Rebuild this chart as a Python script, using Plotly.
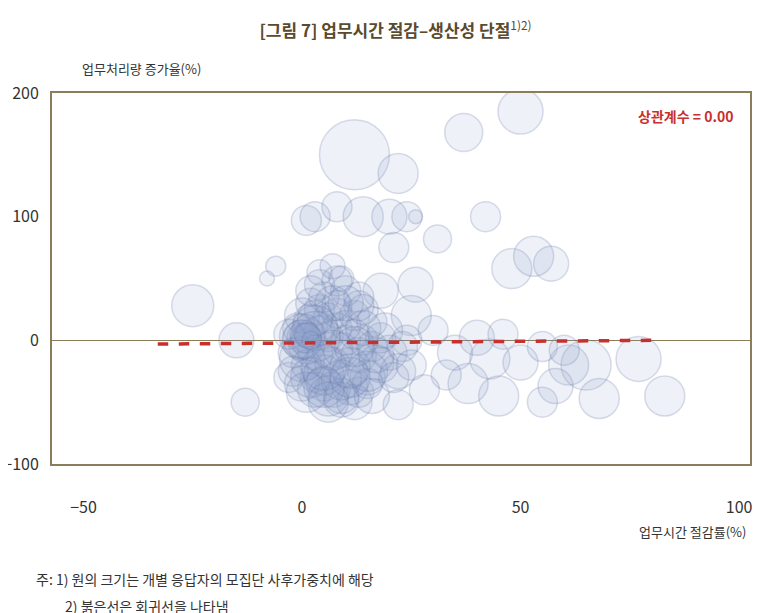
"""Bubble chart: work-time savings vs productivity (figure 7)."""

import plotly.graph_objects as go

# outlying respondents: time saving (%), output change (%), weight (marker diameter)
outer_x = [-25, -15, -8, -6, -13, -3, 12, 22, 37, 50, 1, 3, 8, 14, 20, 24, 26, 42, 31, 21,
           48, 53, 57, 26, 65, 61, 77, 83, 68, 55, 58, 45, 38, 33, 43, 35, 40, 46, 30, 50,
           55, 25, 28, 18, 60, 22]
outer_y = [28, 0, 50, 60, -50, -30, 150, 135, 168, 185, 97, 100, 108, 100, 100, 100, 100, 100, 82, 75,
           58, 68, 62, 45, -20, -20, -15, -45, -47, -50, -37, -45, -35, -28, -15, -10, 2, 5, 8, -18,
           -5, 20, -40, 40, -8, -52]
outer_w = [42, 35, 15, 20, 28, 30, 70, 40, 38, 45, 30, 30, 30, 40, 35, 30, 14, 30, 28, 30,
           40, 40, 35, 35, 50, 40, 45, 40, 40, 30, 35, 40, 40, 30, 40, 35, 35, 30, 30, 35,
           30, 40, 30, 35, 30, 30]

# dense core of respondents around zero
core_x = [0, 0, 1, 2, 3, 4, 5, 6, 7, 8, 9, 10, 11, 12, 13, 14, 15, 16, 17, 18,
          -2, -1, 0, 1, 2, 3, 4, 5, 6, 7, 8, 9, 10, 11, 12, 13, 14, 15, 16, 18,
          -3, -2, 0, 2, 3, 5, 6, 8, 9, 10, 12, 14, 16, 20, 22, 24,
          0, 2, 4, 5, 7, 9, 11, 13, 15, 17, 19, 21, 23, 25,
          1, 3, 5, 7, 9, 11, 13, 4, 6, 8, 3, 5, 7, 2, 10, 12,
          0, 0, 1, 1, 2, 3]
core_y = [0, 2, -5, 5, -10, 8, -15, 3, -20, 10, -8, 0, -25, 5, -12, 0, -30, -5, -18, 2,
          -10, 10, 20, -20, 15, -30, 25, -35, 18, -40, 22, -45, 12, -38, 20, -42, 10, -35, 15, -20,
          5, -25, -35, 30, -40, 35, -45, 28, -48, 40, -50, 25, -45, -10, -25, 0,
          -15, -30, 45, -28, 30, -32, -22, 28, -25, -12, 8, -30, -5, -20,
          -42, 10, -38, -8, 50, -30, 35, 55, -50, 48, 18, -22, 60, 40, 30, -5,
          3, 1, 2, 4, 0, 3]
core_w = [40, 30, 35, 30, 35, 30, 35, 30, 35, 30, 35, 30, 35, 30, 35, 30, 35, 30, 35, 30,
          30, 30, 35, 30, 35, 30, 30, 35, 30, 35, 30, 35, 30, 35, 30, 30, 35, 30, 30, 35,
          30, 30, 35, 30, 35, 30, 40, 30, 35, 30, 35, 30, 35, 35, 35, 30,
          45, 40, 30, 40, 35, 40, 40, 30, 40, 35, 35, 30, 30, 30,
          40, 45, 40, 40, 25, 40, 30, 25, 40, 30, 35, 45, 25, 30, 35, 40,
          45, 38, 30, 24, 18, 50]

# regression line end points
reg_x = [-33, 80]
reg_y = [-3, 0]

bubble_x = outer_x + core_x
bubble_y = outer_y + core_y
bubble_w = outer_w + core_w

FRAME = "#8b7d5a"
KFONT = "Noto Sans CJK KR"
L, R, T, B = 44, 33, 85, 157

fig = go.Figure()
fig.add_trace(
    go.Scatter(
        x=bubble_x,
        y=bubble_y,
        mode="markers",
        marker=dict(
            size=bubble_w,
            sizemode="diameter",
            color="rgba(140,158,205,0.2)",
            line=dict(color="rgba(100,118,165,0.35)", width=1.5),
        ),
        hoverinfo="x+y",
    )
)
fig.add_trace(
    go.Scatter(
        x=reg_x,
        y=reg_y,
        mode="lines",
        line=dict(color="#c8302e", width=3.5, dash="dash"),
    )
)

fig.update_layout(
    width=775,
    height=613,
    margin=dict(l=L, r=R, t=T, b=B, autoexpand=False),
    plot_bgcolor="white",
    paper_bgcolor="white",
    showlegend=False,
    font=dict(family=KFONT, color="#333333"),
    title=dict(
        text="<b>[그림 7] 업무시간 절감–생산성 단절</b><sup>1)2)</sup>",
        x=0.5,
        xanchor="center",
        y=0.972,
        font=dict(size=17, color="#5a4a2e", family=KFONT),
    ),
)
fig.update_xaxes(
    range=[-57.2, 102.5],
    tickvals=[-50, 0, 50, 100],
    ticktext=["−50", "0", "50", "100"],
    tickfont=dict(size=16, color="#333333"),
    showgrid=False,
    zeroline=False,
    showline=True,
    mirror=True,
    linecolor=FRAME,
    linewidth=2,
    ticks="",
    ticklabelstandoff=28,
    automargin=False,
)
fig.update_yaxes(
    range=[-100, 200],
    tickvals=[-100, 0, 100, 200],
    ticktext=["−100", "0", "100", "200"],
    tickfont=dict(size=16, color="#333333"),
    showgrid=False,
    zeroline=True,
    zerolinecolor=FRAME,
    zerolinewidth=1,
    showline=True,
    mirror=True,
    linecolor=FRAME,
    linewidth=2,
    ticks="",
    ticklabelstandoff=8,
    automargin=False,
)

notes = [
    dict(text="업무처리량 증가율(%)", x=72, y=60, xanchor="left", size=13, color="#333333"),
    dict(text="업무시간 절감률(%)", x=740, y=523, xanchor="right", size=13, color="#333333"),
    dict(text="<b>상관계수 = 0.00</b>", x=727, y=108, xanchor="right", size=14, color="#c8302e"),
    dict(text="주: 1) 원의 크기는 개별 응답자의 모집단 사후가중치에 해당", x=26, y=571,
         xanchor="left", size=14, color="#333333"),
    dict(text="2) 붉은선은 회귀선을 나타냄", x=55, y=598, xanchor="left", size=14, color="#333333"),
]
for n in notes:
    fig.add_annotation(
        text=n["text"],
        xref="paper",
        yref="paper",
        x=(n["x"] - L) / (775 - L - R),
        y=(613 - B - n["y"]) / (613 - T - B),
        xanchor=n["xanchor"],
        yanchor="middle",
        showarrow=False,
        font=dict(size=n["size"], color=n["color"], family=KFONT),
    )

fig.write_html("out.html")
